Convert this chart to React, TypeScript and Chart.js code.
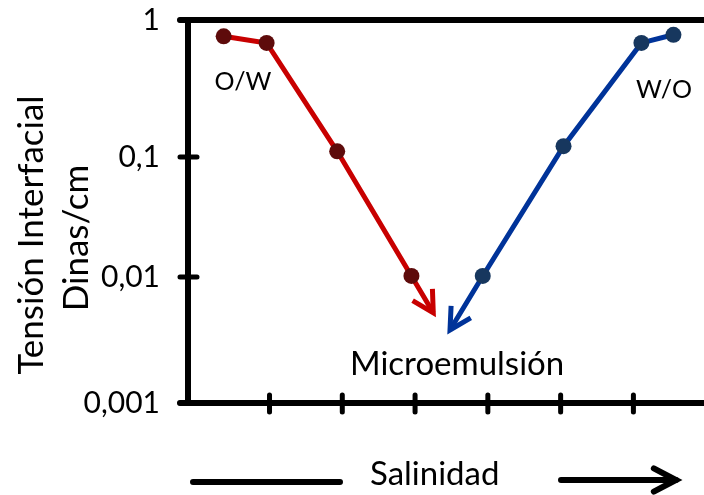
import { useEffect, useRef } from 'react';
import { Chart, registerables, LogarithmicScale } from 'chart.js';

Chart.register(...registerables);

// Salinity steps marked along the x axis
const X_TICKS = [1, 2, 3, 4, 5, 6];
// Interfacial tension decades (Dinas/cm)
const Y_TICKS = [0.001, 0.01, 0.1, 1];
const Y_TICK_LABELS = ['0,001', '0,01', '0,1', '1'];

// O/W branch: tension drops as salinity rises
const owSalinity = [0.37, 0.96, 1.93, 2.95];
const owTension = [0.76, 0.68, 0.11, 0.0102];
const owArrowTip = [3.25, 0.0052];

// W/O branch: tension climbs again past the optimum
const woSalinity = [3.93, 5.04, 6.11, 6.55];
const woTension = [0.0102, 0.12, 0.68, 0.78];
const woArrowTip = [3.48, 0.0038];

const FONT = 'Lato, "Open Sans", sans-serif';
const RED = '#C80000';
const RED_DOT = '#5E0B0B';
const BLUE = '#003399';
const BLUE_DOT = '#17375E';

// Share of the axis height given to each decade, lowest decade first.
const DECADE_WEIGHTS = [126, 120, 137];

class DecadeLogScale extends LogarithmicScale {
  static id = 'decadeLog';
  static defaults = {};
  getPixelForValue(value: number) {
    if (value === null || value === undefined || isNaN(value) || value <= 0) return NaN;
    let pos = Math.log10(value) - Math.log10(this.min);
    const total = DECADE_WEIGHTS.reduce((a, b) => a + b, 0);
    let acc = 0;
    for (let i = 0; i < DECADE_WEIGHTS.length; i++) {
      if (pos <= 1 || i === DECADE_WEIGHTS.length - 1) {
        acc += pos * DECADE_WEIGHTS[i];
        break;
      }
      acc += DECADE_WEIGHTS[i];
      pos -= 1;
    }
    return this.getPixelForDecimal(acc / total);
  }
}
Chart.register(DecadeLogScale);

function drawChevron(ctx: CanvasRenderingContext2D, tx: number, ty: number, angle: number, len: number, spread: number) {
  ctx.beginPath();
  ctx.moveTo(tx + Math.cos(angle + Math.PI - spread) * len, ty + Math.sin(angle + Math.PI - spread) * len);
  ctx.lineTo(tx, ty);
  ctx.lineTo(tx + Math.cos(angle + Math.PI + spread) * len, ty + Math.sin(angle + Math.PI + spread) * len);
  ctx.stroke();
}

const framePlugin = {
  id: 'frame',
  beforeDatasetsDraw(chart: any) {
    const { ctx, chartArea, scales } = chart;
    const { left, top, bottom } = chartArea;
    const x = scales.x;
    const y = scales.y;
    ctx.save();
    ctx.strokeStyle = '#000';
    ctx.lineCap = 'round';
    ctx.lineWidth = 6;
    ctx.beginPath();
    ctx.moveTo(left - 8, top);
    ctx.lineTo(chart.width + 5, top);
    ctx.moveTo(left, top);
    ctx.lineTo(left, bottom);
    ctx.moveTo(left - 8, bottom);
    ctx.lineTo(chart.width + 5, bottom);
    ctx.stroke();

    ctx.lineWidth = 5;
    ctx.beginPath();
    Y_TICKS.forEach((v) => {
      const py = y.getPixelForValue(v);
      ctx.moveTo(left - 8, py);
      ctx.lineTo(left + 9, py);
    });
    X_TICKS.forEach((v) => {
      const px = x.getPixelForValue(v);
      ctx.moveTo(px, bottom - 8);
      ctx.lineTo(px, bottom + 9);
    });
    ctx.stroke();
    ctx.restore();
  },
  afterDatasetsDraw(chart: any) {
    const { ctx } = chart;
    const arrows = [
      { ds: 0, tip: owSalinity.length, from: owSalinity.length - 1, color: RED },
      { ds: 1, tip: 0, from: 1, color: BLUE },
    ];
    ctx.save();
    ctx.lineWidth = 5;
    ctx.lineJoin = 'miter';
    ctx.lineCap = 'butt';
    arrows.forEach((a) => {
      const pts = chart.getDatasetMeta(a.ds).data;
      const t = pts[a.tip];
      const f = pts[a.from];
      const ang = Math.atan2(t.y - f.y, t.x - f.x);
      ctx.strokeStyle = a.color;
      drawChevron(ctx, t.x, t.y, ang, 24, 0.5);
    });
    ctx.restore();
  },
  afterDraw(chart: any) {
    const { ctx } = chart;
    ctx.save();
    ctx.fillStyle = '#000';
    ctx.textBaseline = 'alphabetic';

    // Axis title, two rotated lines
    ctx.font = `35px ${FONT}`;
    ctx.textAlign = 'center';
    ctx.save();
    ctx.translate(43, 235);
    ctx.rotate(-Math.PI / 2);
    ctx.fillText('Tensión Interfacial', 0, 0);
    ctx.restore();
    ctx.save();
    ctx.translate(88, 238);
    ctx.rotate(-Math.PI / 2);
    ctx.fillText('Dinas/cm', 0, 0);
    ctx.restore();

    // Region labels
    ctx.font = `25px ${FONT}`;
    ctx.fillText('O/W', 243, 90);
    ctx.fillText('W/O', 664, 98);
    ctx.font = `33px ${FONT}`;
    ctx.textAlign = 'left';
    ctx.fillText('Microemulsión', 350, 375);
    ctx.fillText('Salinidad', 370, 485);

    // Salinity direction arrow under the axis
    ctx.strokeStyle = '#000';
    ctx.lineWidth = 6;
    ctx.lineCap = 'round';
    ctx.beginPath();
    ctx.moveTo(193, 482);
    ctx.lineTo(340, 482);
    ctx.moveTo(561, 480);
    ctx.lineTo(676, 480);
    ctx.stroke();
    ctx.lineJoin = 'miter';
    ctx.lineCap = 'round';
    drawChevron(ctx, 676, 480, 0, 25, 0.48);
    ctx.restore();
  },
};

export default function App() {
  const canvasRef = useRef<HTMLCanvasElement | null>(null);

  useEffect(() => {
    const canvas = canvasRef.current;
    if (!canvas) return;

    const owData = owSalinity.map((s, i) => ({ x: s, y: owTension[i] }));
    owData.push({ x: owArrowTip[0], y: owArrowTip[1] });
    const woData = woSalinity.map((s, i) => ({ x: s, y: woTension[i] }));
    woData.unshift({ x: woArrowTip[0], y: woArrowTip[1] });

    const chart = new Chart(canvas, {
      type: 'line',
      data: {
        datasets: [
          {
            label: 'O/W',
            data: owData,
            borderColor: RED,
            borderWidth: 5,
            pointRadius: (c: any) => (c.dataIndex < owSalinity.length ? 8 : 0),
            pointBackgroundColor: RED_DOT,
            pointBorderColor: RED_DOT,
            pointBorderWidth: 0,
            tension: 0,
            clip: false,
          },
          {
            label: 'W/O',
            data: woData,
            borderColor: BLUE,
            borderWidth: 5,
            pointRadius: (c: any) => (c.dataIndex === 0 ? 0 : 8),
            pointBackgroundColor: BLUE_DOT,
            pointBorderColor: BLUE_DOT,
            pointBorderWidth: 0,
            tension: 0,
            clip: false,
          },
        ],
      },
      options: {
        animation: false,
        responsive: false,
        devicePixelRatio: 1,
        events: [],
        layout: { padding: { top: 20, bottom: 92, left: 0, right: 0 } },
        plugins: { legend: { display: false }, tooltip: { enabled: false } },
        scales: {
          x: {
            type: 'linear',
            min: -0.12,
            max: 6.86,
            display: false,
          },
          y: {
            type: 'decadeLog' as any,
            min: 0.001,
            max: 1,
            position: 'left',
            afterFit: (s: any) => {
              s.width = 188;
              s.paddingTop = 0;
              s.paddingBottom = 0;
            },
            afterBuildTicks: (s: any) => {
              s.ticks = Y_TICKS.map((v) => ({ value: v }));
            },
            grid: { display: false, drawTicks: false },
            border: { display: false },
            ticks: {
              autoSkip: false,
              padding: 28,
              color: '#000',
              font: { family: FONT, size: 30 },
              callback: (v: any) => {
                const i = Y_TICKS.indexOf(Number(v));
                return i >= 0 ? Y_TICK_LABELS[i] : '';
              },
            },
          },
        },
      },
      plugins: [framePlugin],
    } as any);

    return () => chart.destroy();
  }, []);

  return (
    <div style={{ position: 'fixed', left: 0, top: 0, width: 704, height: 495, background: '#fff' }}>
      <canvas ref={canvasRef} width={704} height={495} style={{ display: 'block' }} />
    </div>
  );
}
